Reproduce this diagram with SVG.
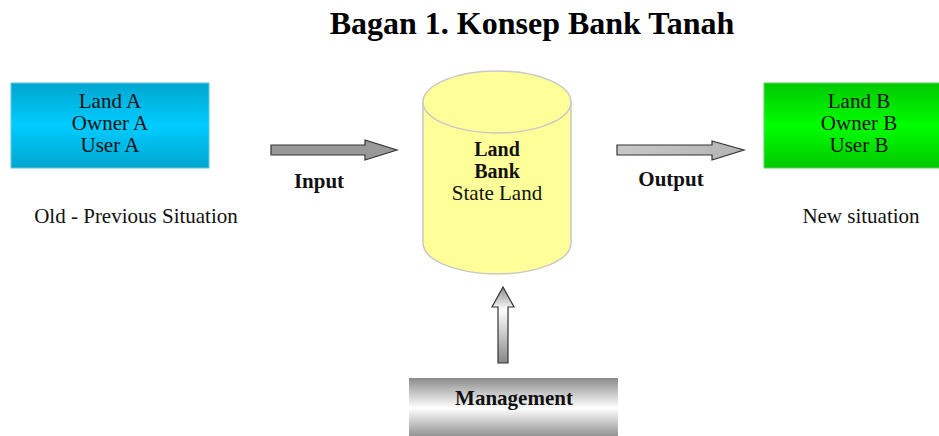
<svg xmlns="http://www.w3.org/2000/svg" width="939" height="436" viewBox="0 0 939 436">
<defs>
<linearGradient id="gA" x1="0" y1="0" x2="0" y2="1">
<stop offset="0" stop-color="#00a6cf"/><stop offset="0.5" stop-color="#00ccff"/><stop offset="1" stop-color="#00a6cf"/>
</linearGradient>
<linearGradient id="gB" x1="0" y1="0" x2="0" y2="1">
<stop offset="0" stop-color="#00c800"/><stop offset="0.5" stop-color="#00ff00"/><stop offset="1" stop-color="#00c800"/>
</linearGradient>
<linearGradient id="gM" x1="0" y1="0" x2="0" y2="1">
<stop offset="0" stop-color="#8c8c8c"/><stop offset="0.5" stop-color="#ffffff"/><stop offset="1" stop-color="#8c8c8c"/>
</linearGradient>
<linearGradient id="gOut" x1="0" y1="0" x2="1" y2="0">
<stop offset="0" stop-color="#c8c8c8"/><stop offset="1" stop-color="#b4b4b4"/>
</linearGradient>
<linearGradient id="gUp" x1="0" y1="0" x2="0" y2="1">
<stop offset="0" stop-color="#888888"/><stop offset="0.3" stop-color="#ffffff"/><stop offset="1" stop-color="#888888"/>
</linearGradient>
<style>
.t{font-family:"Liberation Serif","Times New Roman",serif;font-size:21px;fill:#111;text-anchor:middle}
.b{font-weight:bold}
.arrow{stroke:#333;stroke-width:1.2;stroke-linejoin:miter}
</style>
</defs>
<text x="532" y="34" class="t b" style="font-size:32px;fill:#000">Bagan 1. Konsep Bank Tanah</text>

<g id="nodeA">
<rect x="11" y="83" width="198" height="85" fill="url(#gA)" stroke="#5ec8e6" stroke-width="1"/>
<text x="110" y="108" class="t">Land A</text>
<text x="110" y="130" class="t">Owner A</text>
<text x="110" y="152" class="t">User A</text>
</g>

<g id="nodeB">
<rect x="764" y="83" width="190" height="85" fill="url(#gB)" stroke="#5ad85a" stroke-width="1"/>
<text x="859" y="108" class="t">Land B</text>
<text x="859" y="130" class="t">Owner B</text>
<text x="859" y="152" class="t">User B</text>
</g>

<g id="bank">
<path d="M423,102 L423,243 A74,31 0 0 0 571,243 L571,102" fill="#ffff99" stroke="#c8c8c8" stroke-width="1.5"/>
<ellipse cx="497" cy="102" rx="74" ry="31" fill="#ffff99" stroke="#c8c8c8" stroke-width="1.5"/>
<text x="497" y="156" class="t b" style="font-size:20px">Land</text>
<text x="497" y="178" class="t b" style="font-size:20px">Bank</text>
<text x="497" y="200" class="t">State Land</text>
</g>

<g id="management">
<rect x="409" y="378" width="209" height="60" fill="url(#gM)"/>
<text x="514" y="405" class="t b">Management</text>
</g>

<g id="connectors">
<path class="arrow" d="M271,145 L365,145 L365,140 L397,150 L365,160 L365,155 L271,155 Z" fill="#999999"/>
<path class="arrow" d="M617,145 L712,145 L712,141 L744,150 L712,160 L712,155 L617,155 Z" fill="url(#gOut)"/>
<path class="arrow" d="M498,363 L498,307 L492,307 L503,287 L514,307 L508,307 L508,363 Z" fill="url(#gUp)"/>
</g>

<text x="319" y="188" class="t b">Input</text>
<text x="671" y="186" class="t b">Output</text>
<text x="136" y="223" class="t">Old - Previous Situation</text>
<text x="861" y="223" class="t">New situation</text>
</svg>
